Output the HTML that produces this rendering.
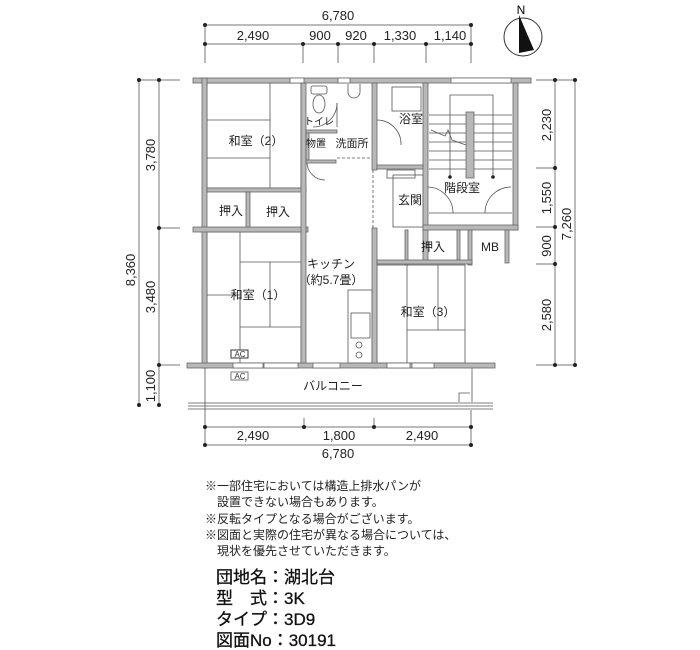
<!DOCTYPE html>
<html><head><meta charset="utf-8"><style>
html,body{margin:0;padding:0;background:#fff;}
svg{display:block;font-family:"Liberation Sans","Noto Sans CJK JP",sans-serif;}
</style></head><body>
<svg width="700" height="650" viewBox="0 0 700 650" xmlns="http://www.w3.org/2000/svg">
<g stroke="#777" stroke-width="1" fill="none">
<line x1="205" y1="25" x2="471" y2="25"/>
<line x1="205" y1="44" x2="471" y2="44"/>
<line x1="205" y1="25" x2="205" y2="63"/><line x1="471" y1="25" x2="471" y2="63"/>
<line x1="303" y1="44" x2="303" y2="63"/><line x1="338" y1="44" x2="338" y2="63"/>
<line x1="374" y1="44" x2="374" y2="63"/><line x1="426" y1="44" x2="426" y2="63"/>
<line x1="139" y1="80" x2="139" y2="405"/><line x1="159" y1="80" x2="159" y2="405"/>
<line x1="139" y1="80" x2="180" y2="80"/><line x1="159" y1="228" x2="180" y2="228"/>
<line x1="159" y1="365" x2="180" y2="365"/>
<line x1="555" y1="80" x2="555" y2="365"/><line x1="575" y1="80" x2="575" y2="365"/>
<line x1="536" y1="80" x2="575" y2="80"/><line x1="536" y1="365" x2="575" y2="365"/>
<line x1="536" y1="168" x2="555" y2="168"/><line x1="536" y1="227" x2="555" y2="227"/>
<line x1="536" y1="264" x2="555" y2="264"/>
<line x1="205" y1="427" x2="471" y2="427"/><line x1="205" y1="445" x2="471" y2="445"/>
<line x1="205" y1="410" x2="205" y2="445"/><line x1="471" y1="410" x2="471" y2="445"/>
<line x1="304" y1="418" x2="304" y2="427"/><line x1="374" y1="418" x2="374" y2="427"/>
</g>
<g fill="#222">
<circle cx="205" cy="25" r="2"/><circle cx="471" cy="25" r="2"/>
<circle cx="205" cy="44" r="2"/><circle cx="303" cy="44" r="2"/><circle cx="338" cy="44" r="2"/><circle cx="374" cy="44" r="2"/><circle cx="426" cy="44" r="2"/><circle cx="471" cy="44" r="2"/>
<circle cx="139" cy="80" r="2"/><circle cx="159" cy="80" r="2"/><circle cx="159" cy="228" r="2"/><circle cx="159" cy="365" r="2"/><circle cx="139" cy="405" r="2"/><circle cx="159" cy="405" r="2"/>
<circle cx="555" cy="80" r="2"/><circle cx="575" cy="80" r="2"/><circle cx="555" cy="168" r="2"/><circle cx="555" cy="227" r="2"/><circle cx="555" cy="264" r="2"/><circle cx="555" cy="365" r="2"/><circle cx="575" cy="365" r="2"/>
<circle cx="205" cy="427" r="2"/><circle cx="304" cy="427" r="2"/><circle cx="374" cy="427" r="2"/><circle cx="471" cy="427" r="2"/>
<circle cx="205" cy="445" r="2"/><circle cx="471" cy="445" r="2"/>
</g>
<g font-size="13" fill="#222" text-anchor="middle">
<text x="338" y="20">6,780</text>
<text x="253" y="40">2,490</text><text x="320" y="40">900</text><text x="356" y="40">920</text><text x="400" y="40">1,330</text><text x="450" y="40">1,140</text>
<text x="253" y="440">2,490</text><text x="339" y="440">1,800</text><text x="422" y="440">2,490</text>
<text x="338" y="458">6,780</text>
<text transform="translate(135,270) rotate(-90)">8,360</text>
<text transform="translate(155,155) rotate(-90)">3,780</text>
<text transform="translate(155,297) rotate(-90)">3,480</text>
<text transform="translate(155,386) rotate(-90)">1,100</text>
<text transform="translate(551,125) rotate(-90)">2,230</text>
<text transform="translate(551,198) rotate(-90)">1,550</text>
<text transform="translate(551,246) rotate(-90)">900</text>
<text transform="translate(551,315) rotate(-90)">2,580</text>
<text transform="translate(571,224) rotate(-90)">7,260</text>
</g>
<circle cx="523" cy="37" r="19" fill="none" stroke="#333"/>
<polygon points="519,15 519,53 534,50" fill="#111"/>
<text x="521" y="14" font-size="12" text-anchor="middle">N</text>
<g stroke="#555" stroke-width="0.8" fill="none">
<rect x="207" y="83" width="94" height="105"/>
<line x1="270" y1="83" x2="270" y2="188"/><line x1="207" y1="120" x2="270" y2="120"/><line x1="207" y1="158" x2="270" y2="158"/>
<rect x="207" y="232" width="94" height="131"/>
<line x1="240" y1="232" x2="240" y2="363"/><line x1="240" y1="262" x2="301" y2="262"/><line x1="270" y1="262" x2="270" y2="327"/><line x1="240" y1="327" x2="301" y2="327"/><line x1="207" y1="295" x2="240" y2="295"/>
<rect x="377" y="265" width="88" height="98"/>
<line x1="407" y1="265" x2="407" y2="363"/><line x1="407" y1="330" x2="465" y2="330"/><line x1="438" y1="265" x2="438" y2="330"/>
<rect x="348" y="290" width="24" height="73"/><rect x="351" y="313" width="19" height="25"/>
<circle cx="359" cy="345" r="3"/><circle cx="359" cy="355" r="3"/>
<rect x="392" y="87" width="29" height="24"/>
<rect x="393" y="175" width="30" height="52"/>
<rect x="387" y="170" width="28" height="8"/>
<!-- stairs -->
<path d="M450 178 V95 H493 V178"/>
<line x1="429" y1="115" x2="466" y2="115"/><line x1="474" y1="115" x2="512" y2="115"/>
<line x1="429" y1="124" x2="466" y2="124"/><line x1="474" y1="124" x2="512" y2="124"/>
<line x1="429" y1="133" x2="466" y2="133"/><line x1="474" y1="133" x2="512" y2="133"/>
<line x1="429" y1="142" x2="466" y2="142"/><line x1="474" y1="142" x2="512" y2="142"/>
<line x1="429" y1="151" x2="466" y2="151"/><line x1="474" y1="151" x2="512" y2="151"/>
<line x1="429" y1="160" x2="466" y2="160"/><line x1="474" y1="160" x2="512" y2="160"/>
<line x1="429" y1="169" x2="466" y2="169"/><line x1="474" y1="169" x2="512" y2="169"/>
<path d="M431 130 L445 136 L448 130 L452 140 L466 145"/>
<!-- doors -->
<path d="M337 103 A24 24 0 0 1 313 127"/><line x1="337" y1="103" x2="337" y2="127"/>
<path d="M377 120 A24 24 0 0 1 401 145"/>
<path d="M307 163 A18 18 0 0 0 325 180"/>
<path d="M427 187 A26 26 0 0 1 453 213"/><path d="M511 187 A26 26 0 0 0 485 213"/>
<line x1="429" y1="213" x2="512" y2="213"/>
<line x1="337" y1="158" x2="373" y2="158" stroke-dasharray="3,2"/>
<line x1="373" y1="170" x2="373" y2="228" stroke-dasharray="3,2"/>
<line x1="205" y1="368" x2="205" y2="410"/><line x1="472" y1="368" x2="472" y2="402"/>
<path d="M459 402 V393 H470"/>
<line x1="188" y1="403" x2="493" y2="403"/><line x1="188" y1="406" x2="493" y2="406"/><line x1="188" y1="409" x2="493" y2="409"/>
<line x1="232" y1="80" x2="280" y2="80"/>
<line x1="490" y1="79" x2="512" y2="79"/>
</g>
<g fill="#222">
<circle cx="450" cy="177" r="1.8"/><circle cx="493" cy="177" r="1.8"/>
</g>
<g stroke="#555" fill="none" stroke-width="0.8">
<rect x="311" y="86" width="16" height="8" rx="2"/><ellipse cx="319" cy="104" rx="6" ry="9"/>
<path d="M348 84 v8 a6 6 0 0 0 12 0 v-8"/>
</g>
<g fill="#b8b8b8" stroke="#666" stroke-width="0.8">
<rect x="193" y="78" width="338" height="5"/>
<rect x="202" y="78" width="5" height="290"/>
<rect x="193" y="227" width="115" height="5"/>
<rect x="207" y="188" width="99" height="4"/>
<rect x="246" y="192" width="4" height="35"/>
<rect x="301" y="83" width="5" height="284"/>
<rect x="306" y="132" width="3" height="30"/>
<rect x="306" y="130" width="31" height="3"/>
<rect x="306" y="160" width="30" height="3"/>
<rect x="372" y="83" width="5" height="87"/>
<rect x="372" y="228" width="5" height="140"/>
<rect x="377" y="165" width="50" height="4"/>
<rect x="423" y="83" width="5" height="180"/>
<rect x="513" y="83" width="5" height="147"/>
<rect x="466" y="112" width="8" height="66"/>
<rect x="423" y="225" width="95" height="5"/>
<rect x="405" y="230" width="3" height="35"/>
<rect x="457" y="230" width="3" height="30"/>
<rect x="468" y="230" width="4" height="35"/>
<rect x="505" y="230" width="4" height="33"/>
<rect x="377" y="260" width="95" height="4"/>
<rect x="187" y="363" width="308" height="5"/>
</g>
<g fill="#fff" stroke="#666" stroke-width="0.8">
<rect x="233" y="363" width="30" height="5"/><rect x="264" y="363" width="34" height="5"/>
<rect x="313" y="363" width="27" height="5"/><rect x="387" y="363" width="23" height="5"/><rect x="412" y="363" width="22" height="5"/>
<rect x="290" y="78" width="14" height="5"/><rect x="338" y="78" width="12" height="5"/>
<rect x="451" y="78" width="60" height="5"/>
</g>
<g font-size="8" fill="#333" text-anchor="middle">
<rect x="231" y="350" width="17" height="8" fill="#fff" stroke="#333"/><text x="240" y="357">AC</text>
<rect x="231" y="372" width="17" height="8" fill="#fff" stroke="#777"/><text x="240" y="379">AC</text>
</g>
<g font-size="12" fill="#222" text-anchor="middle">
<text x="256" y="145">和室（2）</text>
<text x="319" y="125" font-size="10">トイレ</text>
<text x="316" y="147" font-size="10">物置</text>
<text x="352" y="147" font-size="11">洗面所</text>
<text x="411" y="123">浴室</text>
<text x="462" y="192">階段室</text>
<text x="410" y="204">玄関</text>
<text x="231" y="215">押入</text>
<text x="278" y="216">押入</text>
<text x="433" y="251">押入</text>
<text x="490" y="251">MB</text>
<text x="331" y="268">キッチン</text>
<text x="331" y="284">（約5.7畳）</text>
<text x="258" y="299">和室（1）</text>
<text x="428" y="316">和室（3）</text>
<text x="333" y="390">バルコニー</text>
</g>
<g font-size="12" fill="#222">
<text x="205" y="490">※一部住宅においては構造上排水パンが</text>
<text x="205" y="506">　設置できない場合もあります。</text>
<text x="205" y="523">※反転タイプとなる場合がございます。</text>
<text x="205" y="539">※図面と実際の住宅が異なる場合については、</text>
<text x="205" y="555">　現状を優先させていただきます。</text>
</g>
<g font-size="17" fill="#111" stroke="#111" stroke-width="0.3">
<text x="216" y="583">団地名：湖北台</text>
<text x="216" y="604">型　式：3K</text>
<text x="216" y="625">タイプ：3D9</text>
<text x="216" y="646">図面No：30191</text>
</g>
</svg>
</body></html>
